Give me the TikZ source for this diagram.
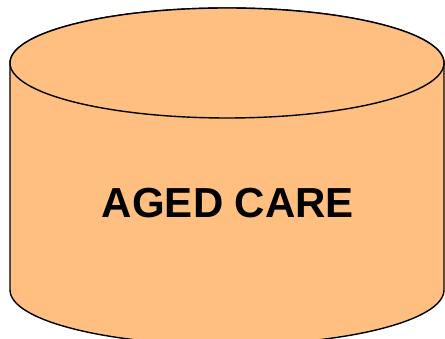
\documentclass[tikz,border=0pt]{standalone}
\usepackage{fontspec}
\setmainfont{Liberation Sans}
\definecolor{cylfill}{RGB}{255,191,128}
\begin{document}
\begin{tikzpicture}[x=1pt,y=1pt,
  cyl/.style={fill=cylfill,draw=black,line width=1.4pt,line join=round},
  lbl/.style={font=\fontsize{42}{48}\selectfont\bfseries,inner sep=0pt}]
\useasboundingbox (0,0) rectangle (445,339);
\draw[cyl] (10,276) -- (10,49)
  arc[start angle=180,end angle=360,x radius=217,y radius=55]
  -- (444,276)
  arc[start angle=0,end angle=180,x radius=217,y radius=55] -- cycle;
\draw[cyl] (227,276) ellipse[x radius=217,y radius=55];
\node[lbl] (label) at (228,136) {AGED CARE};
\end{tikzpicture}
\end{document}
